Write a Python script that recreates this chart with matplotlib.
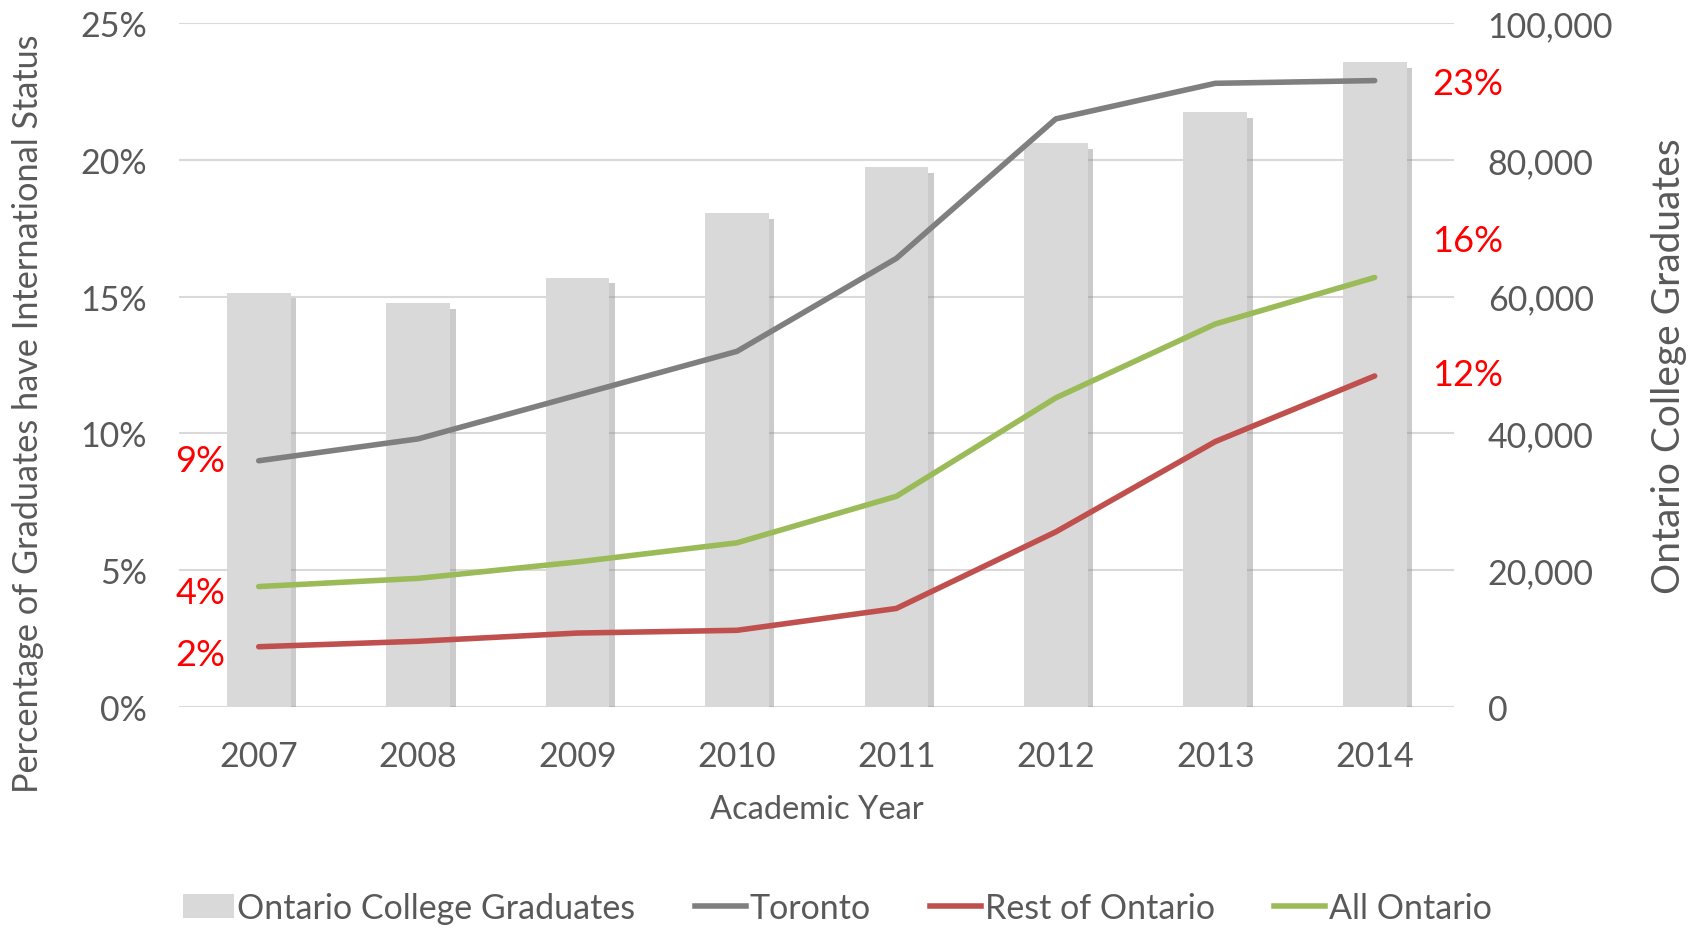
import matplotlib.pyplot as plt
import matplotlib.patheffects as pe
from matplotlib.lines import Line2D
from matplotlib.patches import Patch
from matplotlib.ticker import FuncFormatter

# data
years = ["2007", "2008", "2009", "2010", "2011", "2012", "2013", "2014"]
graduates = [60600, 59000, 62800, 72200, 78900, 82400, 87000, 94300]
toronto = [9.0, 9.8, 11.4, 13.0, 16.4, 21.5, 22.8, 22.9]
rest_of_ontario = [2.2, 2.4, 2.7, 2.8, 3.6, 6.4, 9.7, 12.1]
all_ontario = [4.4, 4.7, 5.3, 6.0, 7.7, 11.3, 14.0, 15.7]

# red callouts next to first and last points
left_notes = ["9%", "4%", "2%"]
left_note_y = [9.0, 4.2, 1.9]
right_notes = ["23%", "16%", "12%"]
right_note_y = [22.8, 17.05, 12.15]

text_color = "#595959"
grid_color = "#d9d9d9"
plt.rcParams["font.family"] = ["Lato", "DejaVu Sans"]

fig = plt.figure(figsize=(17.05, 9.29), dpi=100)
ax = fig.add_axes([0.105, 0.238, 0.748, 0.736])
ax2 = ax.twinx()

x = list(range(len(years)))

# bars on the right axis, drawn behind the lines
ax2.bar(x, graduates, width=0.4, color="#d9d9d9", zorder=2,
        path_effects=[pe.SimplePatchShadow(offset=(4, -4), shadow_rgbFace="#8c8c8c", alpha=0.45),
                      pe.Normal()])
ax2.set_ylim(0, 100000)
ax2.set_yticks([0, 20000, 40000, 60000, 80000, 100000])
ax2.yaxis.set_major_formatter(FuncFormatter(lambda v, p: f"{int(v):,}"))
ax2.grid(axis="y", color=grid_color, linewidth=1.5, zorder=0)
ax2.set_axisbelow(True)
ax2.set_ylabel("Ontario College Graduates", fontsize=28, color=text_color, labelpad=27)

# lines on the left axis
ax.set_zorder(ax2.get_zorder() + 1)
ax.patch.set_visible(False)
ax.plot(x, toronto, color="#7f7f7f", linewidth=4, solid_capstyle="round")
ax.plot(x, rest_of_ontario, color="#c0504d", linewidth=4, solid_capstyle="round")
ax.plot(x, all_ontario, color="#9bbb59", linewidth=4, solid_capstyle="round")
ax.set_ylim(0, 25)
ax.set_xlim(-0.5, len(years) - 0.5)
ax.set_yticks([0, 5, 10, 15, 20, 25])
ax.yaxis.set_major_formatter(FuncFormatter(lambda v, p: f"{int(v)}%"))
ax.set_xticks(x)
ax.set_xticklabels(years)
ax.set_ylabel("Percentage of Graduates have International Status", fontsize=24.7,
              color=text_color)
ax.yaxis.set_label_coords(-0.106, 0.43)
ax.set_xlabel("Academic Year", fontsize=23.5, color=text_color, labelpad=16)

for label, yv in zip(left_notes, left_note_y):
    ax.text(-0.21, yv, label, color="red", fontsize=26, ha="right", va="center")
for label, yv in zip(right_notes, right_note_y):
    ax.text(7.36, yv, label, color="red", fontsize=26, ha="left", va="center")

for a in (ax, ax2):
    for s in a.spines.values():
        s.set_visible(False)
ax.tick_params(axis="y", length=0, labelsize=24.5, labelcolor=text_color, pad=23)
ax.tick_params(axis="x", length=0, labelsize=24.5, labelcolor=text_color, pad=24)
ax2.tick_params(axis="y", length=0, labelsize=24.5, labelcolor=text_color, pad=24)

handles = [Patch(facecolor="#d9d9d9"),
           Line2D([], [], color="#7f7f7f", linewidth=4),
           Line2D([], [], color="#c0504d", linewidth=4),
           Line2D([], [], color="#9bbb59", linewidth=4)]
labels = ["Ontario College Graduates", "Toronto", "Rest of Ontario", "All Ontario"]
fig.legend(handles, labels, loc="center", bbox_to_anchor=(0.491, 0.022), ncol=4,
           frameon=False, fontsize=24.5, labelcolor=text_color, handlelength=1.5,
           handletextpad=0.1, columnspacing=1.75)

fig.savefig("out.png", dpi=100)
